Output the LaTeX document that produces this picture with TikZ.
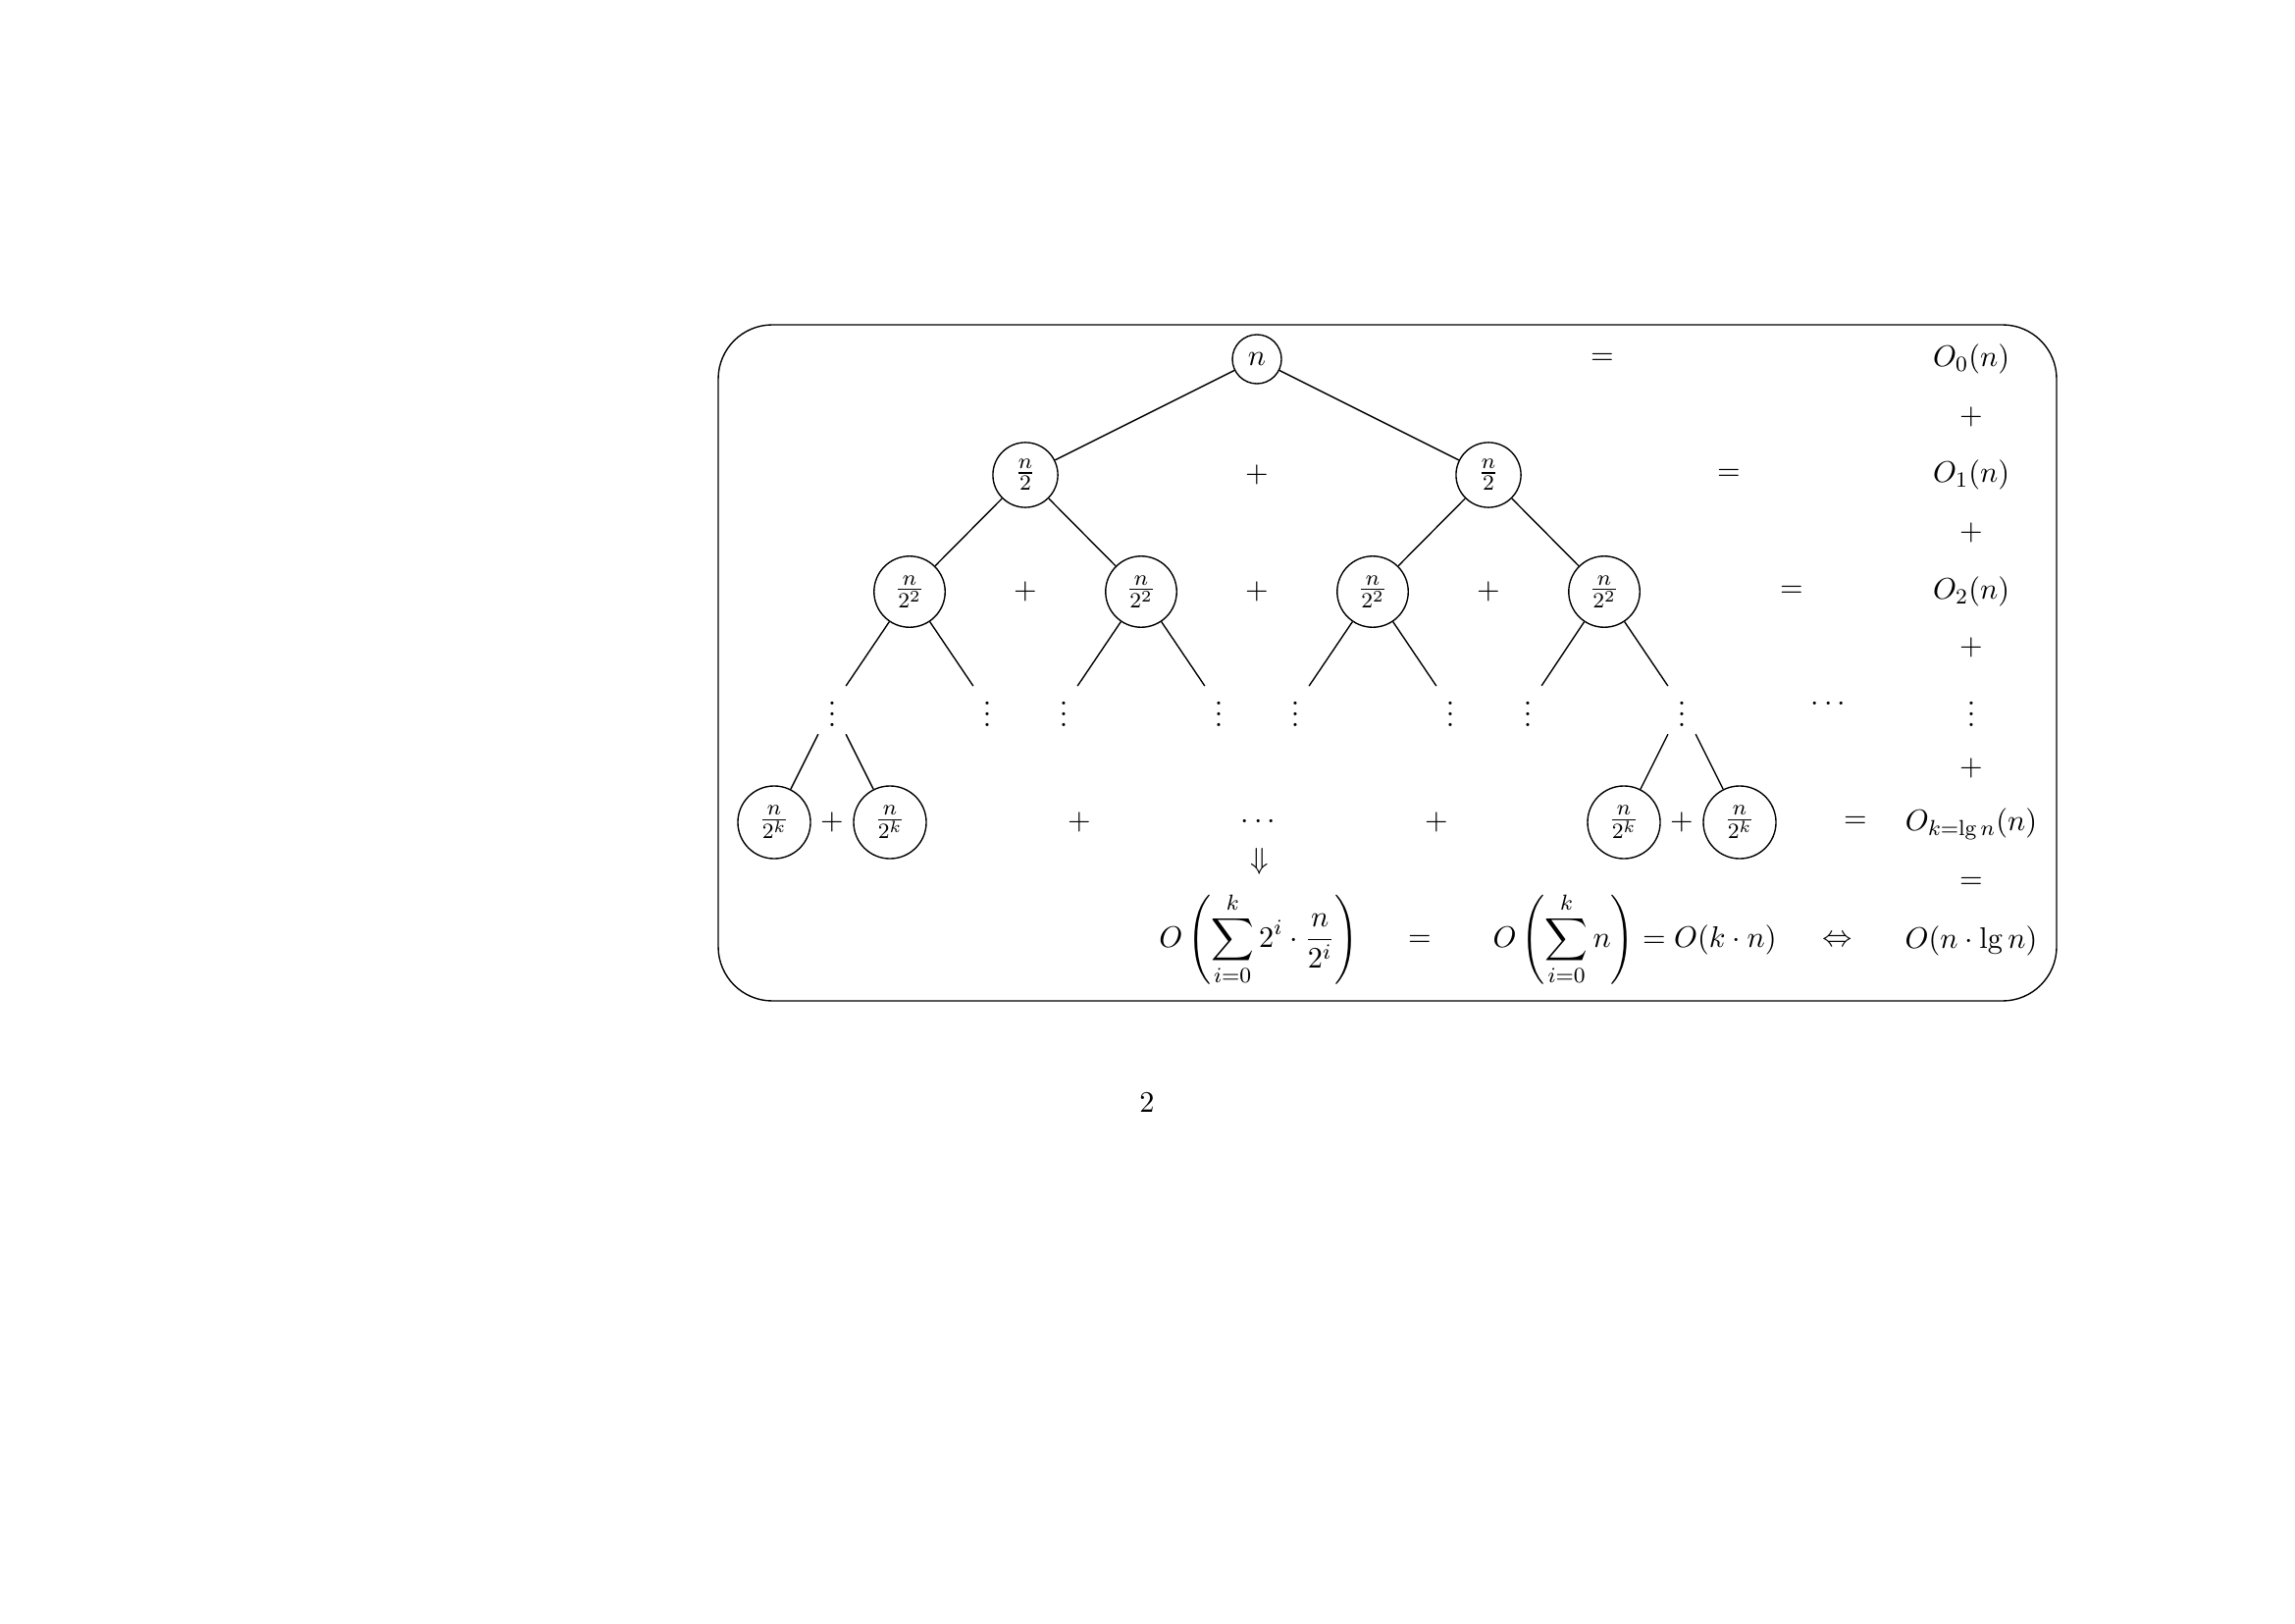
\documentclass[tikz,border=0pt]{standalone}
\usepackage{amsmath}
\begin{document}
\begin{tikzpicture}[x=0.0126984cm,y=-0.0126984cm,
  font=\fontsize{10.95}{13.6}\selectfont, line width=0.5pt,
  tnode/.style={circle,draw,inner sep=0pt},
  lbl/.style={inner sep=0pt},
  dotnode/.style={inner sep=0.3333em}]
\useasboundingbox (0,0) rectangle (2339,1654);
% frame
\draw[rounded corners=0.7cm] (732,331) rectangle (2096,1020);
% tree
\node[tnode,minimum size=0.635cm] (R) at (1281,366) {$n$};
\node[tnode,minimum size=0.84cm] (A) at (1045,484) {$\frac{n}{2}$};
\node[tnode,minimum size=0.84cm] (B) at (1517,484) {$\frac{n}{2}$};
\node[lbl] (p10) at (1281,484) {$+$};
\node[tnode,minimum size=0.92cm] (A1) at (927,603) {$\frac{n}{2^2}$};
\node[tnode,minimum size=0.92cm] (A2) at (1163,603) {$\frac{n}{2^2}$};
\node[tnode,minimum size=0.92cm] (B1) at (1399,603) {$\frac{n}{2^2}$};
\node[tnode,minimum size=0.92cm] (B2) at (1635,603) {$\frac{n}{2^2}$};
\node[lbl] (p20) at (1045,603) {$+$};
\node[lbl] (p21) at (1281,603) {$+$};
\node[lbl] (p22) at (1517,603) {$+$};
\node[dotnode] (d1) at (848,720) {$\vdots$};
\node[dotnode] (d2) at (1006,720) {$\vdots$};
\node[dotnode] (d3) at (1084,720) {$\vdots$};
\node[dotnode] (d4) at (1242,720) {$\vdots$};
\node[dotnode] (d5) at (1320,720) {$\vdots$};
\node[dotnode] (d6) at (1478,720) {$\vdots$};
\node[dotnode] (d7) at (1557,720) {$\vdots$};
\node[dotnode] (d8) at (1714,720) {$\vdots$};
\node[tnode,minimum size=0.94cm] (L1) at (789,838) {$\frac{n}{2^k}$};
\node[tnode,minimum size=0.94cm] (L2) at (907,838) {$\frac{n}{2^k}$};
\node[lbl] (pl1) at (848,838) {$+$};
\node[lbl] (m1) at (1100,838) {$+$};
\node[lbl] (cd) at (1285,838) {$\cdots$};
\node[lbl] (m2) at (1464,838) {$+$};
\node[tnode,minimum size=0.94cm] (R1) at (1655,838) {$\frac{n}{2^k}$};
\node[tnode,minimum size=0.94cm] (R2) at (1773,838) {$\frac{n}{2^k}$};
\node[lbl] (pl2) at (1714,838) {$+$};
% equals
\node[lbl] (e0) at (1633,366) {$=$};
\node[lbl] (e1) at (1762,484) {$=$};
\node[lbl] (e2) at (1826,603) {$=$};
\node[lbl] (ed) at (1866,718) {$\cdots$};
\node[lbl] (ek) at (1891,838) {$=$};
% right column
\node[lbl] (c0) at (2009,366) {$O_0(n)$};
\node[lbl] (c0p) at (2009,425) {$+$};
\node[lbl] (c1) at (2009,484) {$O_1(n)$};
\node[lbl] (c1p) at (2009,543) {$+$};
\node[lbl] (c2) at (2009,603) {$O_2(n)$};
\node[lbl] (c2p) at (2009,660) {$+$};
\node[dotnode] (c3) at (2009,720) {$\vdots$};
\node[lbl] (c3p) at (2009,783) {$+$};
\node[lbl] (ck) at (2009,840) {$O_{k=\lg n}(n)$};
\node[lbl] (cke) at (2009,900) {$=$};
\node[lbl] (cf) at (2009,959) {$O(n\cdot\lg n)$};
% bottom row
\node[lbl] (dn) at (1284,878) {$\Downarrow$};
\node[lbl] (F1) at (1283,957) {$O\left(\displaystyle\sum_{i=0}^{k}2^i\cdot\frac{n}{2^i}\right)$};
\node[lbl] (eb) at (1447,959) {$=$};
\node[lbl,anchor=west] (F2) at (1521,957) {$O\left(\displaystyle\sum_{i=0}^{k}n\right)=O(k\cdot n)$};
\node[lbl] (iff) at (1873,959) {$\Leftrightarrow$};
% page number
\node[lbl] (pg) at (1169,1123) {2};
% edges
\draw (R) -- (A); \draw (R) -- (B);
\draw (A) -- (A1); \draw (A) -- (A2);
\draw (B) -- (B1); \draw (B) -- (B2);
\draw (A1) -- (d1); \draw (A1) -- (d2);
\draw (A2) -- (d3); \draw (A2) -- (d4);
\draw (B1) -- (d5); \draw (B1) -- (d6);
\draw (B2) -- (d7); \draw (B2) -- (d8);
\draw (d1) -- (L1); \draw (d1) -- (L2);
\draw (d8) -- (R1); \draw (d8) -- (R2);
\end{tikzpicture}
\end{document}
